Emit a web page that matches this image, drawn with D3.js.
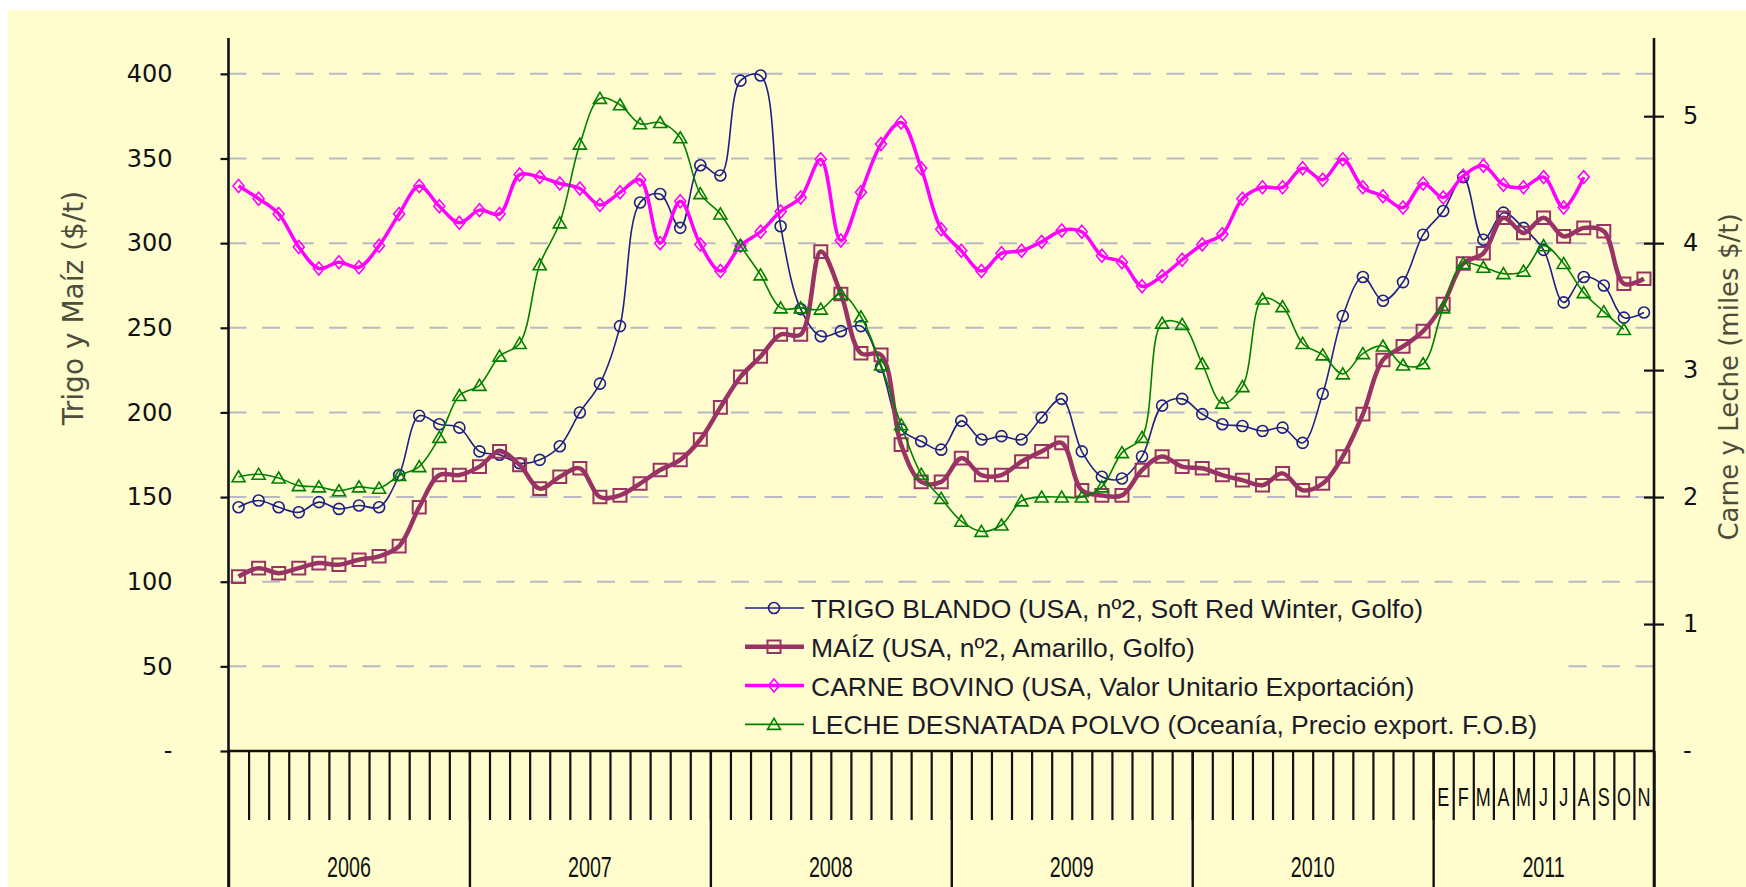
<!DOCTYPE html>
<html>
<head>
<meta charset="utf-8">
<script src="https://cdn.jsdelivr.net/npm/d3@7"></script>
<style>
  html, body { margin: 0; padding: 0; background: #ffffff; }
  svg { display: block; }
</style>
</head>
<body>
<svg id="chart" width="1746" height="887"></svg>
<script>
// 年份 / 月份
const years = ["2006", "2007", "2008", "2009", "2010", "2011"];
const monthsPerYear = [12, 12, 12, 12, 12, 11];
const monthLetters = ["E", "F", "M", "A", "M", "J", "J", "A", "S", "O", "N", "D"];
const labelledYear = "2011";

// 坐标轴刻度
const leftTicks = [0, 50, 100, 150, 200, 250, 300, 350, 400];
const rightTicks = [0, 1, 2, 3, 4, 5];

// 数据 ($/t)
const trigo = [144, 148, 144, 141, 147, 143, 145, 144, 163, 198, 193, 191,
    177, 175, 170, 172, 180, 200, 217, 251, 324, 329, 309, 346,
    340, 396, 399, 310, 261, 245, 248, 251, 227, 190, 183, 178,
    195, 184, 186, 184, 197, 208, 177, 162, 161, 174, 204, 208,
    199, 193, 192, 189, 191, 182, 211, 257, 280, 266, 277, 305,
    319, 339, 302, 318, 309, 296, 265, 280, 275, 256, 259];
const maiz = [103, 108, 105, 108, 111, 110, 113, 115, 121, 144, 163, 163,
    168, 177, 169, 155, 162, 167, 150, 151, 158, 166, 172, 184,
    203, 221, 233, 246, 246, 295, 270, 235, 234, 181, 159, 159,
    173, 163, 163, 171, 177, 182, 154, 151, 151, 166, 174, 168,
    167, 163, 160, 157, 164, 154, 158, 174, 199, 231, 239, 248,
    264, 288, 294, 315, 306, 315, 304, 309, 307, 276, 279];
// 数据 (miles $/t)
const carne = [4.45, 4.35, 4.23, 3.97, 3.80, 3.85, 3.81, 3.98, 4.23, 4.45, 4.29, 4.16,
    4.26, 4.23, 4.54, 4.52, 4.47, 4.43, 4.30, 4.40, 4.50, 4.00, 4.33, 3.99,
    3.78, 3.98, 4.09, 4.25, 4.36, 4.66, 4.02, 4.40, 4.78, 4.95, 4.59, 4.11,
    3.94, 3.78, 3.92, 3.94, 4.01, 4.10, 4.09, 3.90, 3.85, 3.66, 3.74, 3.87,
    3.99, 4.07, 4.35, 4.44, 4.44, 4.59, 4.50, 4.66, 4.44, 4.37, 4.28, 4.47,
    4.36, 4.53, 4.61, 4.46, 4.44, 4.52, 4.28, 4.52];
const leche = [2.16, 2.18, 2.15, 2.09, 2.08, 2.05, 2.08, 2.07, 2.17, 2.24, 2.47, 2.80,
    2.88, 3.11, 3.21, 3.83, 4.16, 4.78, 5.14, 5.09, 4.94, 4.95, 4.83, 4.39,
    4.23, 3.98, 3.75, 3.49, 3.49, 3.48, 3.60, 3.42, 3.04, 2.57, 2.18, 1.99,
    1.81, 1.73, 1.78, 1.97, 2.00, 2.00, 2.00, 2.08, 2.35, 2.47, 3.37, 3.36,
    3.05, 2.74, 2.87, 3.56, 3.50, 3.21, 3.12, 2.97, 3.13, 3.19, 3.04, 3.05,
    3.49, 3.84, 3.81, 3.76, 3.78, 3.98, 3.84, 3.61, 3.46, 3.32];

const seriesNames = [
    "TRIGO BLANDO (USA, nº2, Soft Red Winter, Golfo)",
    "MAÍZ (USA, nº2, Amarillo, Golfo)",
    "CARNE BOVINO (USA, Valor Unitario Exportación)",
    "LECHE DESNATADA POLVO (Oceanía, Precio export. F.O.B)"
];

const leftTitle = "Trigo y Maíz ($/t)";
const rightTitle = "Carne y Leche (miles $/t)";

// 画布参数
const W = 1746, H = 887;
const bg = "#fffdcd";
const plot = { left: 228.5, right: 1654, top: 40, bottom: 751 };
const axisTop = 38;
const condensed = "'Liberation Sans', Arial, sans-serif";
const tickFont = "'DejaVu Sans', Verdana, sans-serif";

const svg = d3.select("#chart");

// 背景
svg.append("rect").attr("width", W).attr("height", H).attr("fill", "#ffffff");
svg.append("rect").attr("x", 8).attr("y", 10).attr("width", W - 8).attr("height", H - 10).attr("fill", bg);

// 类别 (每月一个)
const categories = years.flatMap((y, k) =>
    monthLetters.slice(0, monthsPerYear[k]).map((m, j) => ({ key: `${y}-${j}`, year: y, month: m })));

const x = d3.scaleBand()
    .domain(categories.map(d => d.key))
    .range([plot.left, plot.right])
    .paddingInner(0)
    .paddingOuter(0);
const xIdx = d3.scaleLinear().domain([0, categories.length]).range([plot.left, plot.right]);
const cx = i => x(categories[i].key) + x.bandwidth() / 2;

const yL = d3.scaleLinear().domain([0, 420]).range([plot.bottom, plot.top]);
const yR = d3.scaleLinear().domain([0, 5.6]).range([plot.bottom, plot.top]);

// 网格线
svg.append("g")
    .selectAll("line")
    .data(leftTicks.filter(d => d > 0))
    .enter()
    .append("line")
    .attr("x1", plot.left)
    .attr("x2", plot.right)
    .attr("y1", d => yL(d))
    .attr("y2", d => yL(d))
    .attr("stroke", "#b9b9c6")
    .attr("stroke-width", 2)
    .attr("stroke-dasharray", "18,15.5");

// 左轴
const leftAxis = svg.append("g")
    .attr("transform", `translate(${plot.left},0)`)
    .call(d3.axisLeft(yL).tickValues(leftTicks).tickSize(8).tickPadding(48)
        .tickFormat(d => d === 0 ? "-" : d));
leftAxis.select(".domain").remove();
leftAxis.selectAll(".tick line").attr("stroke", "#111").attr("stroke-width", 2.2);
leftAxis.selectAll(".tick text")
    .attr("font-family", tickFont)
    .attr("font-size", 24)
    .attr("fill", "#111");

// 右轴
const rightAxis = svg.append("g")
    .attr("transform", `translate(${plot.right},0)`)
    .call(d3.axisRight(yR).tickValues(rightTicks).tickSize(10).tickPadding(19)
        .tickFormat(d => d === 0 ? "-" : d));
rightAxis.select(".domain").remove();
rightAxis.selectAll(".tick line").attr("x1", -10).attr("stroke", "#111").attr("stroke-width", 2.2);
rightAxis.selectAll(".tick text")
    .attr("font-family", tickFont)
    .attr("font-size", 24)
    .attr("fill", "#111");
rightAxis.selectAll(".tick").filter(d => d === 0).select("line").remove();

// 月份刻度
const monthAxis = svg.append("g")
    .attr("transform", `translate(0,${plot.bottom})`)
    .call(d3.axisBottom(xIdx).tickValues(d3.range(1, categories.length)).tickSize(69).tickFormat(""));
monthAxis.select(".domain").remove();
monthAxis.selectAll(".tick line").attr("stroke", "#111").attr("stroke-width", 2.2);

// 年份分隔线
const yearEdges = [0, ...d3.cumsum(monthsPerYear)];
const yearAxis = svg.append("g")
    .attr("transform", `translate(0,${plot.bottom})`)
    .call(d3.axisBottom(xIdx).tickValues(yearEdges).tickSize(H - plot.bottom).tickFormat(""));
yearAxis.select(".domain").remove();
yearAxis.selectAll(".tick line").attr("stroke", "#111").attr("stroke-width", 2.4);

// 轴线
svg.append("line").attr("x1", plot.left).attr("x2", plot.left).attr("y1", axisTop).attr("y2", H)
    .attr("stroke", "#111").attr("stroke-width", 2.6);
svg.append("line").attr("x1", plot.right).attr("x2", plot.right).attr("y1", axisTop).attr("y2", H)
    .attr("stroke", "#111").attr("stroke-width", 2.6);
svg.append("line").attr("x1", plot.left).attr("x2", plot.right).attr("y1", plot.bottom).attr("y2", plot.bottom)
    .attr("stroke", "#111").attr("stroke-width", 2.6);

// 2011 月份字母
svg.append("g")
    .selectAll("text")
    .data(categories.map((d, i) => ({ ...d, i })).filter(d => d.year === labelledYear))
    .enter()
    .append("text")
    .attr("transform", d => `translate(${cx(d.i)},806) scale(0.72,1)`)
    .attr("text-anchor", "middle")
    .attr("font-family", condensed)
    .attr("font-size", 25)
    .attr("fill", "#111")
    .text(d => d.month);

// 年份标签
svg.append("g")
    .selectAll("text")
    .data(years)
    .enter()
    .append("text")
    .attr("transform", (d, k) => `translate(${(xIdx(yearEdges[k]) + xIdx(yearEdges[k + 1])) / 2},877) scale(0.68,1)`)
    .attr("text-anchor", "middle")
    .attr("font-family", condensed)
    .attr("font-size", 29)
    .attr("fill", "#111")
    .text(d => d);

// 轴标题
svg.append("text")
    .attr("transform", `translate(83,308) rotate(-90)`)
    .attr("text-anchor", "middle")
    .attr("font-family", tickFont)
    .attr("font-size", 28)
    .attr("fill", "#4d4d3d")
    .text(leftTitle);
svg.append("text")
    .attr("transform", `translate(1738,377) rotate(-90)`)
    .attr("text-anchor", "middle")
    .attr("font-family", tickFont)
    .attr("font-size", 26)
    .attr("fill", "#4d4d3d")
    .text(rightTitle);

// 标记形状
function markerPath(type) {
    switch (type) {
        case "circle": return "M-5.5,0A5.5,5.5 0 1,0 5.5,0A5.5,5.5 0 1,0 -5.5,0Z";
        case "square": return "M-6.5,-6.3H6.5V6.3H-6.5Z";
        case "diamond": return "M0,-6.5L5.5,0L0,6.5L-5.5,0Z";
        case "triangle": return "M0,-6L6.5,5H-6.5Z";
    }
}

const series = [
    { name: seriesNames[0], values: trigo, y: yL, color: "#1f1f88", width: 1.6, marker: "circle", mw: 1.6 },
    { name: seriesNames[1], values: maiz, y: yL, color: "#993366", width: 4.5, marker: "square", mw: 2 },
    { name: seriesNames[2], values: carne, y: yR, color: "#ff00ff", width: 3.5, marker: "diamond", mw: 1.6 },
    { name: seriesNames[3], values: leche, y: yR, color: "#008000", width: 1.6, marker: "triangle", mw: 1.6 }
];

// 绘制序列
series.forEach(s => {
    const line = d3.line()
        .x((d, i) => cx(i))
        .y(d => s.y(d))
        .curve(d3.curveCatmullRom);

    const g = svg.append("g").attr("class", "series");
    g.append("path")
        .attr("d", line(s.values))
        .attr("fill", "none")
        .attr("stroke", s.color)
        .attr("stroke-width", s.width)
        .attr("stroke-linejoin", "round");

    g.selectAll(".mark")
        .data(s.values)
        .enter()
        .append("path")
        .attr("class", "mark")
        .attr("d", markerPath(s.marker))
        .attr("transform", (d, i) => `translate(${cx(i)},${s.y(d)})`)
        .attr("fill", "none")
        .attr("stroke", s.color)
        .attr("stroke-width", s.mw);
});

// 图例
const legend = svg.append("g").attr("class", "legend");
legend.append("rect")
    .attr("x", 693).attr("y", 590)
    .attr("width", 869).attr("height", 155)
    .attr("fill", bg);

const rows = legend.selectAll(".row")
    .data(series)
    .enter()
    .append("g")
    .attr("class", "row")
    .attr("transform", (d, k) => `translate(0,${608 + k * 38.8})`);

rows.append("line")
    .attr("x1", 745).attr("x2", 804)
    .attr("stroke", d => d.color)
    .attr("stroke-width", d => d.width);
rows.append("path")
    .attr("d", d => markerPath(d.marker))
    .attr("transform", "translate(774,0)")
    .attr("fill", "none")
    .attr("stroke", d => d.color)
    .attr("stroke-width", d => d.mw);
rows.append("text")
    .attr("x", 811)
    .attr("y", 10)
    .attr("font-family", condensed)
    .attr("font-size", 26.5)
    .attr("fill", "#1b1b2b")
    .text(d => d.name);
</script>
</body>
</html>
